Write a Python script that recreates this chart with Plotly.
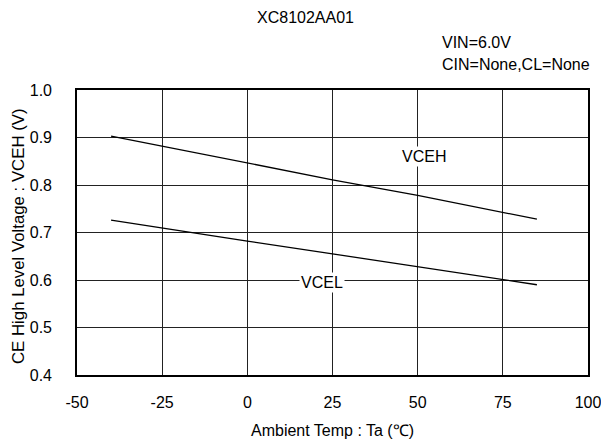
import plotly.graph_objects as go

temp = [-40, -25, 0, 25, 50, 75, 85]
vceh = [0.903, 0.882, 0.846, 0.811, 0.778, 0.743, 0.728]
vcel = [0.726, 0.709, 0.682, 0.655, 0.628, 0.601, 0.590]
x_ticks = [-50, -25, 0, 25, 50, 75, 100]
y_ticks = [0.4, 0.5, 0.6, 0.7, 0.8, 0.9, 1.0]

FONT = "Liberation Sans, Arial, sans-serif"
FS = 16

# plot area in pixels
L, R, T, B = 77, 588, 90, 375
W, H = R - L, B - T


def px(x):
    return (x - L) / W


def py(y):
    return (B - y) / H


fig = go.Figure()
fig.add_trace(go.Scatter(x=temp, y=vceh, mode="lines",
                         line=dict(color="black", width=1.3), showlegend=False))
fig.add_trace(go.Scatter(x=temp, y=vcel, mode="lines",
                         line=dict(color="black", width=1.3), showlegend=False))

f = dict(family=FONT, size=FS, color="black")
ann = [
    dict(x=52, y=0.861, text="VCEH", showarrow=False, bgcolor="white", font=f),
    dict(x=22, y=0.594, text="VCEL", showarrow=False, bgcolor="white", font=f),
    dict(xref="paper", yref="paper", x=px(305), y=py(17), text="XC8102AA01",
         showarrow=False, xanchor="center", yanchor="middle", font=f),
    dict(xref="paper", yref="paper", x=px(440), y=py(43), text="VIN=6.0V",
         showarrow=False, xanchor="left", yanchor="middle", font=f),
    dict(xref="paper", yref="paper", x=px(440), y=py(65), text="CIN=None,CL=None",
         showarrow=False, xanchor="left", yanchor="middle", font=f),
    dict(xref="paper", yref="paper", x=px(332), y=py(430), text="Ambient Temp : Ta (℃)",
         showarrow=False, xanchor="center", yanchor="middle", font=f),
    dict(xref="paper", yref="paper", x=px(18), y=py(236), text="CE High Level Voltage : VCEH (V)",
         showarrow=False, xanchor="center", yanchor="middle", textangle=-90,
         font=dict(family=FONT, size=16.8, color="black")),
]

fig.update_layout(
    width=601, height=444,
    margin=dict(l=L, r=601 - R, t=T, b=444 - B, autoexpand=False),
    paper_bgcolor="white", plot_bgcolor="white",
    font=f,
    annotations=ann,
)

fig.update_xaxes(range=[-50, 100], tickvals=x_ticks, ticktext=[str(v) for v in x_ticks],
                 showgrid=True, gridcolor="#222222", gridwidth=1,
                 showline=True, linecolor="black", linewidth=1.6, mirror=True,
                 ticks="", ticklabelstandoff=12, zeroline=False, automargin=False,
                 ticklabeloverflow="allow", tickfont=f)
fig.update_yaxes(range=[0.4, 1.0], tickvals=y_ticks, ticktext=[f"{v:.1f}" for v in y_ticks],
                 showgrid=True, gridcolor="#222222", gridwidth=1,
                 showline=True, linecolor="black", linewidth=1.6, mirror=True,
                 ticks="", ticklabelstandoff=20, zeroline=False, automargin=False,
                 ticklabeloverflow="allow", tickfont=f)

fig.write_html("out.html", config={"displayModeBar": False},
               post_script="document.body.style.margin='0';document.body.style.overflow='hidden';")
